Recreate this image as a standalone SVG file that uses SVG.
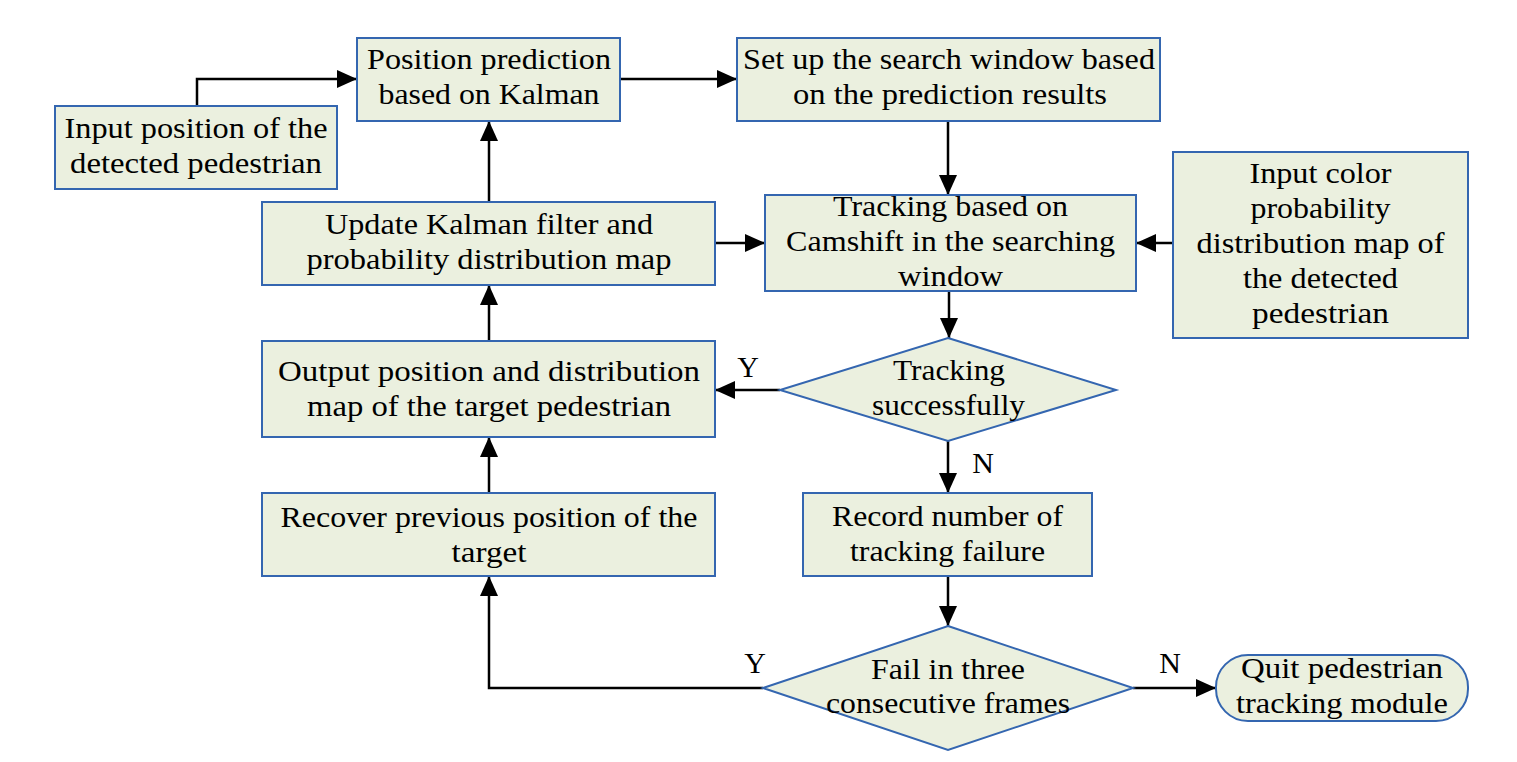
<svg xmlns="http://www.w3.org/2000/svg" width="1517" height="762" viewBox="0 0 1517 762">
<style>
.box{fill:#EBF0DF;stroke:#3466B0;stroke-width:2}
.t{font-family:"Liberation Serif","Times New Roman",serif;font-size:30px;fill:#000;text-anchor:middle}
.c{fill:none;stroke:#000;stroke-width:2.5}
</style>
<defs>
<marker id="ah" markerUnits="userSpaceOnUse" markerWidth="20" markerHeight="18" refX="20" refY="9" orient="auto">
<path d="M0,0 L20,9 L0,18 z" fill="#000"/>
</marker>
</defs>
<rect width="1517" height="762" fill="#fff"/>
<g id="connectors">
<path class="c" d="M197,106 V79 H357" marker-end="url(#ah)"/>
<path class="c" d="M620,79 H737" marker-end="url(#ah)"/>
<path class="c" d="M948,121 V195" marker-end="url(#ah)"/>
<path class="c" d="M715,243 H765" marker-end="url(#ah)"/>
<path class="c" d="M1172,243 H1136" marker-end="url(#ah)"/>
<path class="c" d="M949,291 V338" marker-end="url(#ah)"/>
<path class="c" d="M780,390 H715" marker-end="url(#ah)"/>
<path class="c" d="M948,441 V493" marker-end="url(#ah)"/>
<path class="c" d="M489,341 V285" marker-end="url(#ah)"/>
<path class="c" d="M489,202 V121" marker-end="url(#ah)"/>
<path class="c" d="M489,493 V437" marker-end="url(#ah)"/>
<path class="c" d="M948,576 V626" marker-end="url(#ah)"/>
<path class="c" d="M763,688 H489 V576" marker-end="url(#ah)"/>
<path class="c" d="M1133,688 H1216" marker-end="url(#ah)"/>
<text class="t" x="748" y="377">Y</text>
<text class="t" x="983" y="473">N</text>
<text class="t" x="755" y="673">Y</text>
<text class="t" x="1170" y="673">N</text>
</g>
<g id="input-position">
<rect class="box" x="55" y="106" width="282" height="83"/>
<text class="t" x="196" y="138" textLength="263" lengthAdjust="spacingAndGlyphs">Input position of the</text>
<text class="t" x="196" y="173" textLength="252" lengthAdjust="spacingAndGlyphs">detected pedestrian</text>
</g>
<g id="position-prediction">
<rect class="box" x="357" y="38" width="263" height="83"/>
<text class="t" x="489" y="69" textLength="244" lengthAdjust="spacingAndGlyphs">Position prediction</text>
<text class="t" x="489" y="104" textLength="221" lengthAdjust="spacingAndGlyphs">based on Kalman</text>
</g>
<g id="search-window">
<rect class="box" x="737" y="38" width="423" height="83"/>
<text class="t" x="949" y="69" textLength="412" lengthAdjust="spacingAndGlyphs">Set up the search window based</text>
<text class="t" x="950" y="104" textLength="314" lengthAdjust="spacingAndGlyphs">on the prediction results</text>
</g>
<g id="update-kalman">
<rect class="box" x="262" y="202" width="453" height="83"/>
<text class="t" x="489" y="234" textLength="328" lengthAdjust="spacingAndGlyphs">Update Kalman filter and</text>
<text class="t" x="489" y="269" textLength="365" lengthAdjust="spacingAndGlyphs">probability distribution map</text>
</g>
<g id="camshift">
<rect class="box" x="765" y="195" width="371" height="96"/>
<text class="t" x="950.5" y="216" textLength="235" lengthAdjust="spacingAndGlyphs">Tracking based on</text>
<text class="t" x="950.5" y="251" textLength="329" lengthAdjust="spacingAndGlyphs">Camshift in the searching</text>
<text class="t" x="950.5" y="286" textLength="105" lengthAdjust="spacingAndGlyphs">window</text>
</g>
<g id="color-map">
<rect class="box" x="1173" y="152" width="295" height="186"/>
<text class="t" x="1320.5" y="183" textLength="142" lengthAdjust="spacingAndGlyphs">Input color</text>
<text class="t" x="1320.5" y="218" textLength="140" lengthAdjust="spacingAndGlyphs">probability</text>
<text class="t" x="1320.5" y="253" textLength="248" lengthAdjust="spacingAndGlyphs">distribution map of</text>
<text class="t" x="1320.5" y="288" textLength="155" lengthAdjust="spacingAndGlyphs">the detected</text>
<text class="t" x="1320.5" y="323" textLength="137" lengthAdjust="spacingAndGlyphs">pedestrian</text>
</g>
<g id="output-position">
<rect class="box" x="262" y="341" width="453" height="96"/>
<text class="t" x="489" y="381" textLength="422" lengthAdjust="spacingAndGlyphs">Output position and distribution</text>
<text class="t" x="489" y="416" textLength="364" lengthAdjust="spacingAndGlyphs">map of the target pedestrian</text>
</g>
<g id="tracking-successfully">
<polygon class="box" points="948,338 1116,390 948,441 780,390"/>
<text class="t" x="949" y="380" textLength="112" lengthAdjust="spacingAndGlyphs">Tracking</text>
<text class="t" x="948.5" y="415" textLength="153" lengthAdjust="spacingAndGlyphs">successfully</text>
</g>
<g id="recover-position">
<rect class="box" x="262" y="493" width="453" height="83"/>
<text class="t" x="489" y="527" textLength="417" lengthAdjust="spacingAndGlyphs">Recover previous position of the</text>
<text class="t" x="489" y="562" textLength="75" lengthAdjust="spacingAndGlyphs">target</text>
</g>
<g id="record-failure">
<rect class="box" x="803" y="493" width="289" height="83"/>
<text class="t" x="947.5" y="526" textLength="231" lengthAdjust="spacingAndGlyphs">Record number of</text>
<text class="t" x="947.5" y="561" textLength="195" lengthAdjust="spacingAndGlyphs">tracking failure</text>
</g>
<g id="fail-three">
<polygon class="box" points="948,626 1133,688 948,750 763,688"/>
<text class="t" x="948" y="679" textLength="154" lengthAdjust="spacingAndGlyphs">Fail in three</text>
<text class="t" x="948" y="713" textLength="244" lengthAdjust="spacingAndGlyphs">consecutive frames</text>
</g>
<g id="quit">
<rect class="box" x="1216" y="655" width="252" height="66" rx="32" ry="32"/>
<text class="t" x="1342" y="678" textLength="202" lengthAdjust="spacingAndGlyphs">Quit pedestrian</text>
<text class="t" x="1342" y="713" textLength="212" lengthAdjust="spacingAndGlyphs">tracking module</text>
</g>
</svg>
